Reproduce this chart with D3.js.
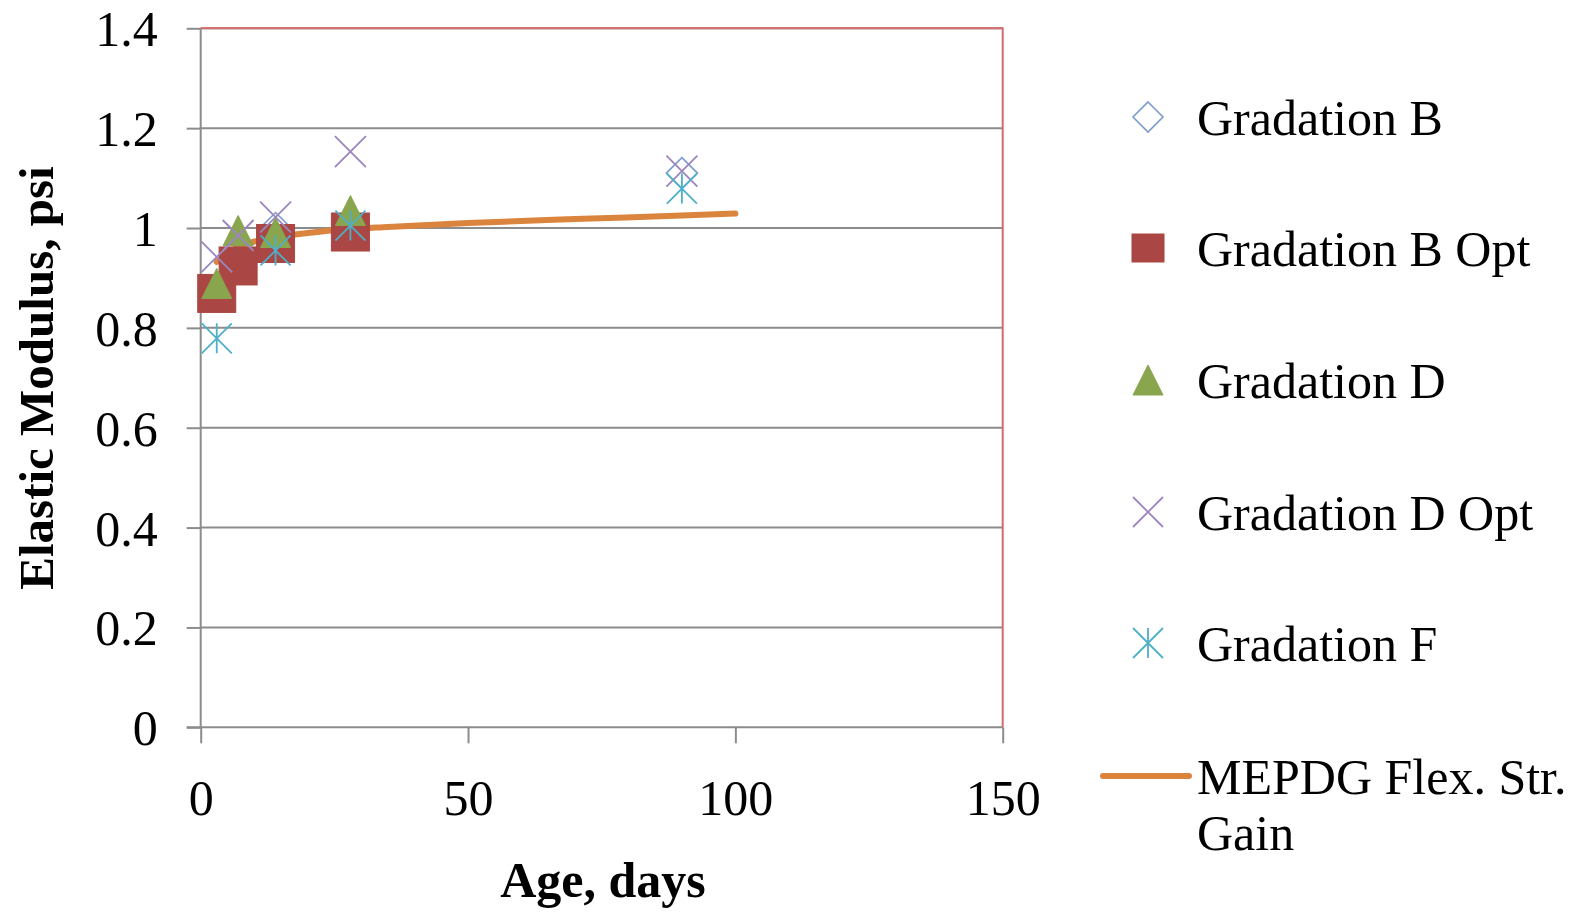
<!DOCTYPE html>
<html>
<head>
<meta charset="utf-8">
<script src="https://cdn.jsdelivr.net/npm/d3@7"></script>
<style>
  html, body { margin: 0; padding: 0; background: #ffffff; }
  svg { display: block; }
  text { font-family: "Liberation Serif", "Times New Roman", serif; fill: #000; }
</style>
</head>
<body>
<svg id="chart" width="1580" height="912"></svg>
<script>
// ---------------- data ----------------
const xTicks = [0, 50, 100, 150];
const yTicks = [0, 0.2, 0.4, 0.6, 0.8, 1.0, 1.2, 1.4];
const yTickLabels = ["0", "0.2", "0.4", "0.6", "0.8", "1", "1.2", "1.4"];

const gradBDays = [3, 7, 14, 28, 90];
const gradBVals = [0.87, 0.93, 1.00, 0.99, 1.11];

const gradBOptDays = [3, 7, 14, 28];
const gradBOptVals = [0.869, 0.924, 0.969, 0.992];

const gradDDays = [3, 7, 14, 28];
const gradDVals = [0.889, 0.995, 0.991, 1.035];

const gradDOptDays = [3, 7, 14, 28, 90];
const gradDOptVals = [0.942, 0.985, 1.022, 1.153, 1.114];

const gradFDays = [3, 14, 28, 90];
const gradFVals = [0.779, 0.955, 1.005, 1.079];

const mepdgDays = [3, 7, 14, 20, 28, 35, 50, 70, 90, 100];
const mepdgVals = [0.932, 0.962, 0.981, 0.990, 0.998, 1.002, 1.010, 1.018, 1.025, 1.029];

const seriesNames = ["Gradation B", "Gradation B Opt", "Gradation D", "Gradation D Opt", "Gradation F", "MEPDG Flex. Str. Gain"];
const colors = ["#4572A7", "#AA4643", "#89A54E", "#80699B", "#3D96AE", "#DB843D"];

// ---------------- layout ----------------
const svg = d3.select("#chart");
const x = d3.scaleLinear().domain([0, 150]).range([200.7, 1002.7]);
const y = d3.scaleLinear().domain([0, 1.4]).range([727.3, 28.3]);

const gridColor = "#8c8c8c";

// gridlines
svg.append("g").selectAll("line").data(yTicks.filter(d => d > 0)).join("line")
  .attr("x1", x(0)).attr("x2", x(150))
  .attr("y1", d => y(d)).attr("y2", d => y(d))
  .attr("stroke", gridColor).attr("stroke-width", 2);

// plot border (red) top & right
svg.append("path")
  .attr("d", `M${x(0)},${y(1.4)}H${x(150)}V${y(0)}`)
  .attr("fill", "none").attr("stroke", "#d66b6b").attr("stroke-width", 2);

// y axis
const yAxis = d3.axisLeft(y).tickValues(yTicks).tickSize(14)
  .tickFormat((d, i) => yTickLabels[i]);
const gy = svg.append("g").attr("transform", `translate(${x(0)},0)`).call(yAxis);
gy.select(".domain").attr("stroke", gridColor).attr("stroke-width", 2)
  .attr("d", `M0,${y(1.4)}V${y(0)}`);
gy.selectAll(".tick line").attr("stroke", gridColor).attr("stroke-width", 2);
gy.selectAll(".tick text")
  .attr("x", -43).attr("dy", "0.35em")
  .style("font-size", "50px").style("font-family", "Liberation Serif")
  .attr("fill", "#000").attr("text-anchor", "end");

// x axis
const xAxis = d3.axisBottom(x).tickValues(xTicks).tickSize(16).tickFormat(d3.format("d"));
const gx = svg.append("g").attr("transform", `translate(0,${y(0)})`).call(xAxis);
gx.select(".domain").attr("stroke", gridColor).attr("stroke-width", 2)
  .attr("d", `M${x(0) - 14},0H${x(150)}`);
gx.selectAll(".tick line").attr("stroke", gridColor).attr("stroke-width", 2);
gx.selectAll(".tick text")
  .attr("y", 88).attr("dy", 0)
  .style("font-size", "50px").style("font-family", "Liberation Serif")
  .attr("fill", "#000");

// axis titles
svg.append("text")
  .attr("transform", `translate(53,378) rotate(-90)`)
  .attr("text-anchor", "middle")
  .style("font-size", "49px").style("font-weight", "bold")
  .text("Elastic Modulus, psi");

svg.append("text")
  .attr("x", 603).attr("y", 897)
  .attr("text-anchor", "middle")
  .style("font-size", "50px").style("font-weight", "bold")
  .text("Age, days");

// ---------------- series ----------------
const zip = (a, b) => a.map((d, i) => [d, b[i]]);

// MEPDG line (drawn first)
svg.append("path")
  .datum(zip(mepdgDays, mepdgVals))
  .attr("d", d3.line().x(d => x(d[0])).y(d => y(d[1])).curve(d3.curveMonotoneX))
  .attr("fill", "none").attr("stroke", colors[5]).attr("stroke-width", 6)
  .attr("stroke-linecap", "round");

// marker drawers
function diamond(g, s, c) {
  g.append("path").attr("d", `M0,${-s/2}L${s/2},0L0,${s/2}L${-s/2},0Z`)
    .attr("fill", "none").attr("stroke", c).attr("stroke-width", 1.6);
}
function square(g, s, c, h) {
  const hh = h || s;
  g.append("rect").attr("x", -s/2).attr("y", -hh/2).attr("width", s).attr("height", hh)
    .attr("fill", c).attr("stroke", c).attr("stroke-width", 1);
}
function triangle(g, s, c) {
  g.append("path").attr("d", `M0,${-s/2}L${s/2},${s/2}L${-s/2},${s/2}Z`)
    .attr("fill", c).attr("stroke", c).attr("stroke-width", 1);
}
function cross(g, s, c) {
  g.append("path").attr("d", `M${-s/2},${-s/2}L${s/2},${s/2}M${s/2},${-s/2}L${-s/2},${s/2}`)
    .attr("fill", "none").attr("stroke", c).attr("stroke-width", 1.8);
}
function star(g, s, c) {
  g.append("path").attr("d", `M${-s/2},${-s/2}L${s/2},${s/2}M${s/2},${-s/2}L${-s/2},${s/2}M0,${-s/2}V${s/2}`)
    .attr("fill", "none").attr("stroke", c).attr("stroke-width", 1.8);
}

function plotSeries(days, vals, fn, size, color) {
  const g = svg.append("g");
  zip(days, vals).forEach(d => {
    const m = g.append("g").attr("transform", `translate(${x(d[0])},${y(d[1])})`);
    fn(m, size, color);
  });
}

plotSeries(gradBDays, gradBVals, diamond, 31, "#7b9ccc");
plotSeries(gradBOptDays, gradBOptVals, square, 38, colors[1]);
plotSeries(gradDDays, gradDVals, triangle, 30, colors[2]);
plotSeries(gradDOptDays, gradDOptVals, cross, 31, "#9d86bf");
plotSeries(gradFDays, gradFVals, star, 30, "#4eb0c8");

// ---------------- legend ----------------
const legX = 1148, legTextX = 1197;
const legY = [117, 248, 380, 512, 643];
const legFns = [diamond, square, triangle, cross, star];
const legColors = ["#7b9ccc", colors[1], colors[2], "#9d86bf", "#4eb0c8"];
const leg = svg.append("g");
legY.forEach((ly, i) => {
  const m = leg.append("g").attr("transform", `translate(${legX},${ly})`);
  if (i === 1) square(m, 32, legColors[i], 28);
  else legFns[i](m, 30, legColors[i]);
  leg.append("text").attr("x", legTextX).attr("y", ly).attr("dy", "0.35em")
    .style("font-size", "50px").text(seriesNames[i]);
});
leg.append("line").attr("x1", 1103).attr("x2", 1189).attr("y1", 776).attr("y2", 776)
  .attr("stroke", colors[5]).attr("stroke-width", 6).attr("stroke-linecap", "round");
leg.append("text").attr("x", legTextX).attr("y", 776).attr("dy", "0.35em")
  .style("font-size", "50px").text("MEPDG Flex. Str.");
leg.append("text").attr("x", legTextX).attr("y", 832).attr("dy", "0.35em")
  .style("font-size", "50px").text("Gain");
</script>
</body>
</html>
